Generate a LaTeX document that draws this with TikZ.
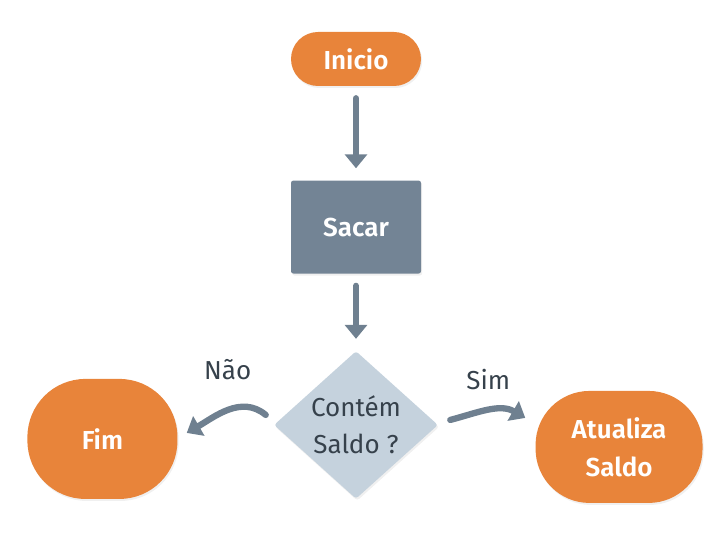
\documentclass[tikz,border=0pt]{standalone}
\usepackage{fontspec}
\setmainfont{Fira Sans}
\newfontfamily\boxfont{Fira Sans SemiBold}
\usetikzlibrary{shapes.geometric, arrows.meta, calc, positioning, shadows}
\definecolor{orangeBox}{HTML}{E8843A}
\definecolor{slateBox}{HTML}{738495}
\definecolor{slateLight}{HTML}{C5D2DD}
\definecolor{arrowGray}{HTML}{6F8090}
\definecolor{textDark}{HTML}{36414B}
\tikzstyle{softshadow} = [drop shadow={opacity=0.12, shadow xshift=0.03cm, shadow yshift=-0.05cm}]
\tikzstyle{terminal} = [rectangle, rounded corners=0.675cm, minimum width=3.25cm, minimum height=1.35cm, fill=orangeBox, text=white, font=\boxfont\fontsize{18.5}{27}\selectfont, align=center, softshadow]
\tikzstyle{process} = [rectangle, rounded corners=0.06cm, minimum width=3.25cm, minimum height=2.325cm, fill=slateBox, text=white, font=\boxfont\fontsize{18.5}{27}\selectfont, softshadow]
\tikzstyle{decision} = [diamond, rounded corners=2pt, minimum width=4.1cm, minimum height=3.675cm, inner sep=0pt, fill=slateLight, text=textDark, font=\fontsize{18.5}{26}\selectfont, align=center, softshadow]
\tikzstyle{edgetext} = [text=textDark, font=\fontsize{18.5}{26}\selectfont]
\tikzstyle{arrow} = [draw=arrowGray, line width=4.5pt, line cap=round, -{Triangle[width=0.55cm, length=0.35cm]}]

\begin{document}
\begin{tikzpicture}
	\useasboundingbox (0,0) rectangle (18.2,-13.775);
	\node (Inicio) [terminal] at (8.9,-1.475) {Inicio};
	\node (Sacar) [process, below = 2.35cm of Inicio] {Sacar};
	\node (Decisao) [decision, below = 1.925cm of Sacar] {Contém\\Saldo ?};
	\node (Fim) [terminal, rounded corners=1.45cm, minimum width=3.75cm, minimum height=3cm, left = 2.4cm of Decisao, yshift=-0.35cm] {Fim};
	\node (Atualiza) [terminal, rounded corners=1.35cm, minimum width=4.175cm, minimum height=2.8cm, right = 2.425cm of Decisao, yshift=-0.55cm] {Atualiza\\Saldo};
	\coordinate (NaoStart) at ($(Decisao.west)+(-0.2,0.25)$);
	\coordinate (NaoEnd) at ($(Fim.east)+(0.225,0.15)$);
	\coordinate (SimStart) at ($(Decisao.east)+(0.3,0.125)$);
	\coordinate (SimEnd) at ($(Atualiza.west)+(-0.25,0.725)$);
	\node (NaoLabel) [edgetext] at ($(Decisao.west)+(-1.15,1.375)$) {Não};
	\node (SimLabel) [edgetext] at ($(Decisao.east)+(1.25,1.125)$) {Sim};
	\draw [arrow, shorten <=0.3cm, shorten >=0.3cm] (Inicio) -- (Sacar);
	\draw [arrow, shorten <=0.3cm, shorten >=0.3cm] (Sacar) -- (Decisao);
	\draw [arrow] (NaoStart) to[out=140, in=30] (NaoEnd);
	\draw [arrow] (SimStart) to[out=15, in=150] (SimEnd);
\end{tikzpicture}
\end{document}
